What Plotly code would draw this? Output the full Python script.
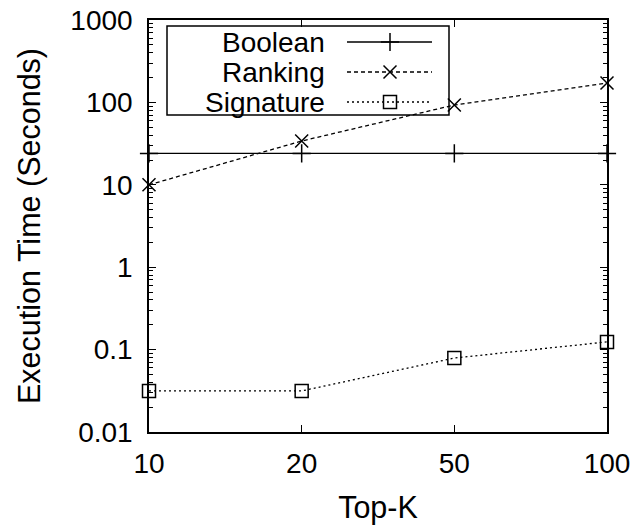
import plotly.graph_objects as go

# ---- data ----
topk = ["10", "20", "50", "100"]
boolean_time = [24, 24, 24, 24]
ranking_time = [10, 34, 93, 172]
signature_time = [0.0315, 0.0315, 0.079, 0.124]
ytick_vals = [0.01, 0.1, 1, 10, 100, 1000]
ytick_text = ["0.01", "0.1", "1", "10", "100", "1000"]

FONT = "Liberation Sans, Arial, sans-serif"
FS = 28
idx = list(range(len(topk)))

fig = go.Figure()

series = [
    ("Boolean", boolean_time, "solid", "cross-thin"),
    ("Ranking", ranking_time, "4px,3px", "x-thin"),
    ("Signature", signature_time, "2px,3px", "square-open"),
]
for name, vals, dash, sym in series:
    fig.add_trace(go.Scatter(
        x=idx, y=vals, name=name, mode="lines+markers",
        line=dict(color="black", width=1.3, dash=dash),
        marker=dict(symbol=sym, size=13, color="black",
                    line=dict(color="black", width=1.5)),
        cliponaxis=False, showlegend=False,
    ))

# ---- custom gnuplot-style legend (overlay axes in pixel units) ----
leg_rows = [42, 72, 102]
for (name, vals, dash, sym), yy in zip(series, leg_rows):
    fig.add_trace(go.Scatter(
        x=[347, 432], y=[yy, yy], mode="lines", xaxis="x2", yaxis="y2",
        line=dict(color="black", width=1.3, dash=dash), showlegend=False,
        hoverinfo="skip"))
    fig.add_trace(go.Scatter(
        x=[390], y=[yy], mode="markers", xaxis="x2", yaxis="y2",
        marker=dict(symbol=sym, size=13, color="black",
                    line=dict(color="black", width=1.5)),
        showlegend=False, hoverinfo="skip", cliponaxis=False))
    fig.add_annotation(x=327, y=yy, xref="x2", yref="y2", text=name,
                       showarrow=False, xanchor="right", yanchor="middle",
                       font=dict(family=FONT, size=FS, color="black"))

fig.add_shape(type="rect", xref="x2", yref="y2", x0=167, x1=449, y0=26, y1=115,
              line=dict(color="black", width=1.5), layer="above")

minor_vals = [m * 10 ** e for e in range(-2, 3) for m in range(2, 10)]
title_font = dict(family=FONT, size=30.5, color="black")

fig.update_layout(
    width=634, height=527,
    margin=dict(l=149, r=27, t=20, b=95, autoexpand=False),
    paper_bgcolor="white", plot_bgcolor="white",
    font=dict(family=FONT, size=FS, color="black"),
    xaxis=dict(
        range=[0, 3], tickmode="array", tickvals=idx, ticktext=topk,
        ticks="inside", ticklen=7, tickwidth=1.3, tickcolor="black",
        mirror="allticks", showline=True, linecolor="black", linewidth=1.5,
        showgrid=False, zeroline=False, ticklabelstandoff=6, automargin=False,
        tickfont=dict(family=FONT, size=FS, color="black"),
        title=dict(text="Top-K", standoff=18, font=title_font),
    ),
    yaxis=dict(
        type="log", range=[-2, 3], tickmode="array", tickvals=ytick_vals,
        ticktext=ytick_text, ticks="inside", ticklen=7, tickwidth=1.3,
        tickcolor="black", mirror="allticks", showline=True, linecolor="black",
        linewidth=1.5, showgrid=False, zeroline=False, ticklabelstandoff=9,
        automargin=False,
        tickfont=dict(family=FONT, size=FS, color="black"),
        minor=dict(tickmode="array", tickvals=minor_vals, ticks="inside",
                   ticklen=4, tickwidth=1.2, tickcolor="black", showgrid=False),
        title=dict(text="Execution Time (Seconds)", standoff=21,
                   font=title_font),
    ),
    xaxis2=dict(overlaying="x", anchor="y2", range=[149, 607], visible=False),
    yaxis2=dict(overlaying="y", anchor="x2", range=[432, 20], visible=False),
)

fig.write_html("out.html")
